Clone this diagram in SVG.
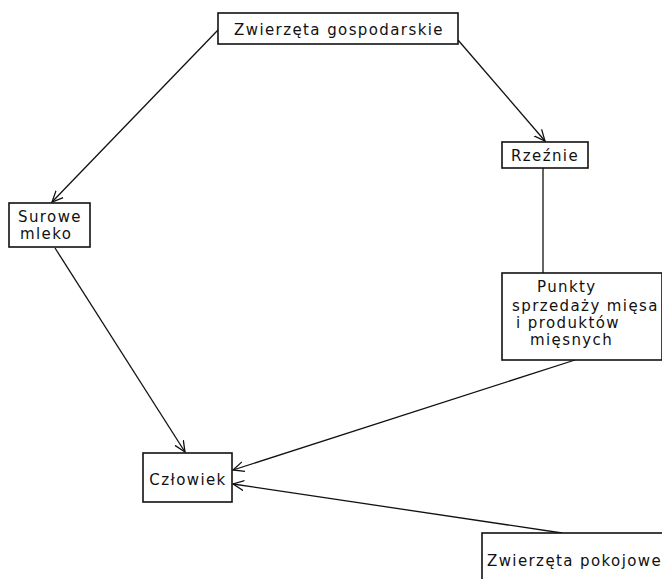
<svg xmlns="http://www.w3.org/2000/svg" width="662" height="579" viewBox="0 0 662 579">
<defs>
<style>
.box{fill:#fff;stroke:#111;stroke-width:1.6}
.t{font-family:"DejaVu Sans",sans-serif;font-size:15px;letter-spacing:1.4px;fill:#111}
.c{stroke:#111;stroke-width:1.3;fill:none}
</style>
<marker id="ah" viewBox="0 0 12 12" refX="11" refY="6" markerWidth="12" markerHeight="12" markerUnits="userSpaceOnUse" orient="auto">
<path d="M0,1 L11,6 L0,11" fill="none" stroke="#111" stroke-width="1.3"/>
</marker>
</defs>
<rect width="662" height="579" fill="#fff"/>
<g id="connectors">
<line class="c" x1="218" y1="30" x2="52" y2="202" marker-end="url(#ah)"/>
<line class="c" x1="458" y1="40" x2="545" y2="141" marker-end="url(#ah)"/>
<line class="c" x1="543" y1="168" x2="543" y2="273"/>
<line class="c" x1="55" y1="248" x2="185" y2="452" marker-end="url(#ah)"/>
<line class="c" x1="575" y1="360" x2="233" y2="470" marker-end="url(#ah)"/>
<line class="c" x1="562" y1="533" x2="233" y2="484" marker-end="url(#ah)"/>
</g>
<g id="zwierzeta-gospodarskie">
<rect class="box" x="218" y="13" width="240" height="31"/>
<text class="t" x="339" y="35" text-anchor="middle">Zwierzęta gospodarskie</text>
</g>
<g id="rzeznie">
<rect class="box" x="502" y="142" width="86" height="26"/>
<text class="t" x="545" y="161" text-anchor="middle">Rzeźnie</text>
</g>
<g id="surowe-mleko">
<rect class="box" x="9" y="203" width="81" height="44"/>
<text class="t" x="18" y="222">Surowe</text>
<text class="t" x="20" y="239">mleko</text>
</g>
<g id="punkty">
<rect class="box" x="502" y="273" width="160" height="87"/>
<text class="t" x="537" y="292">Punkty</text>
<text class="t" x="512" y="311">sprzedaży mięsa</text>
<text class="t" x="516" y="328">i produktów</text>
<text class="t" x="530" y="345">mięsnych</text>
</g>
<g id="czlowiek">
<rect class="box" x="143" y="453" width="89" height="49"/>
<text class="t" x="188" y="485" text-anchor="middle">Człowiek</text>
</g>
<g id="zwierzeta-pokojowe">
<rect class="box" x="482" y="533" width="182" height="50"/>
<text class="t" x="487" y="566">Zwierzęta pokojowe</text>
</g>
</svg>
